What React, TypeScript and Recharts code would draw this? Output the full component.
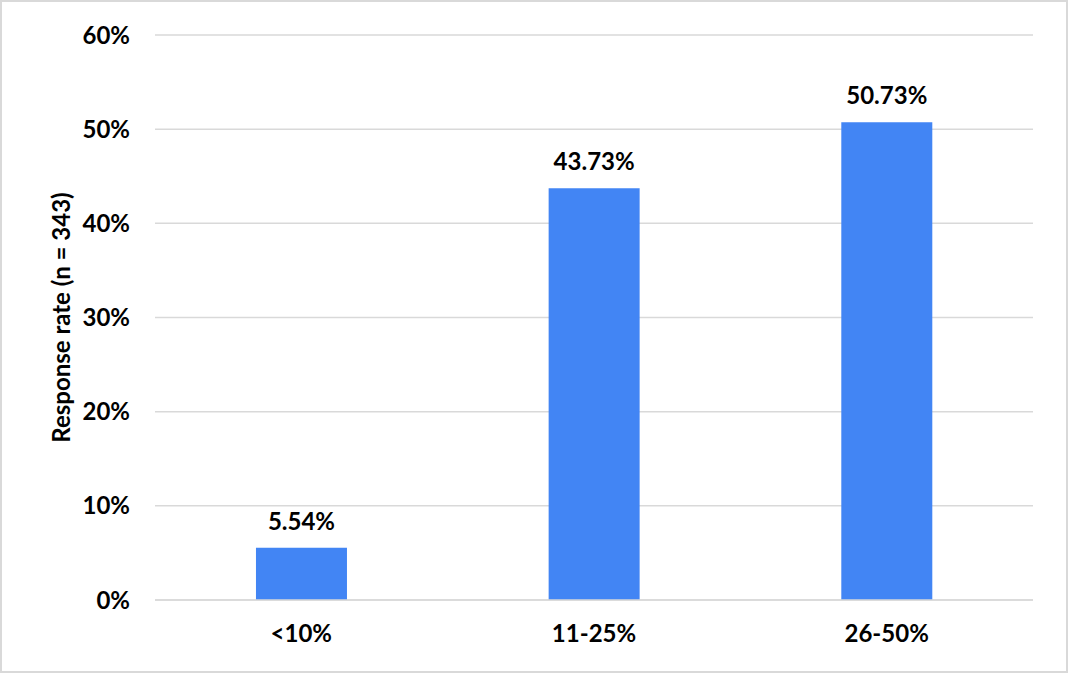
import {BarChart, Bar, XAxis, YAxis, CartesianGrid, LabelList} from 'recharts'

const categories = ['<10%', '11-25%', '26-50%']
const responseRate = [5.54, 43.73, 50.73]
const yTicks = [0, 10, 20, 30, 40, 50, 60]

const data = categories.map((c, i) => ({name: c, rate: responseRate[i]}))

const font = 'Lato, "Open Sans", sans-serif'

function App(){
    return(
        <div style={{position: 'absolute', left: 0, top: 0, width: 1068, height: 673, boxSizing: 'border-box', border: '2px solid #d9d9d9', background: '#fff'}}>
            <BarChart
                width={1064}
                height={669}
                data={data}
                margin={{top: 33, right: 33, bottom: 0, left: 0}}
                barCategoryGap="34.5%"
                style={{fontFamily: font}}
            >
                <CartesianGrid vertical={false} stroke="#d9d9d9" strokeWidth={1.5} />
                <XAxis
                    dataKey="name"
                    height={71}
                    tickLine={false}
                    axisLine={{stroke: '#d9d9d9', strokeWidth: 1.5}}
                    tick={{fill: '#000', fontSize: 24, fontWeight: 700, fontFamily: font}}
                    tickSize={0}
                    tickMargin={25}
                />
                <YAxis
                    width={153}
                    domain={[0, 60]}
                    ticks={yTicks}
                    interval={0}
                    tickFormatter={(v: number) => v + '%'}
                    axisLine={false}
                    tickLine={false}
                    tickSize={0}
                    tickMargin={25}
                    tick={{fill: '#000', fontSize: 24, fontWeight: 700, fontFamily: font}}
                    label={{value: 'Response rate (n = 343)', angle: -90, position: 'center', dx: -17, fill: '#000', fontSize: 24, fontWeight: 700, fontFamily: font}}
                />
                <Bar dataKey="rate" fill="#4285f4" isAnimationActive={false}>
                    <LabelList
                        dataKey="rate"
                        position="top"
                        offset={18}
                        formatter={(v: any) => Number(v).toFixed(2) + '%'}
                        style={{fill: '#000', fontSize: 24, fontWeight: 700, fontFamily: font}}
                    />
                </Bar>
            </BarChart>
        </div>
    )
}

export default App;
